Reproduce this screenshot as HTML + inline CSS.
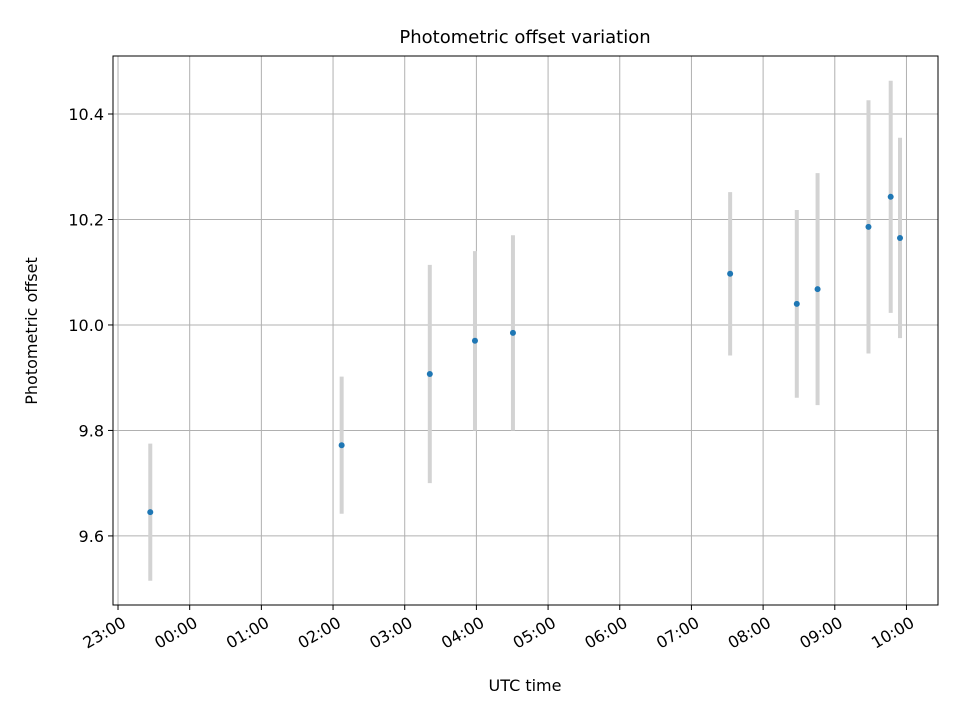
<!DOCTYPE html>
<html><head><meta charset="utf-8"><style>
body{margin:0;background:#fff;font-family:"Liberation Sans","DejaVu Sans",sans-serif}
</style></head><body>
<svg width="960" height="720" xmlns="http://www.w3.org/2000/svg" font-family="DejaVu Sans, Liberation Sans, sans-serif">
<rect width="960" height="720" fill="#fff"/>
<g id="grid"></g>
<g id="err"></g>
<g id="pts"></g>
<rect x="113" y="56" width="825" height="549" fill="none" stroke="#000" stroke-width="1"/>
<g id="xt"></g>
<g id="yt"></g>
<text x="525" y="43" font-size="18" text-anchor="middle">Photometric offset variation</text>
<text x="525" y="691" font-size="16" text-anchor="middle">UTC time</text>
<text transform="translate(37,331) rotate(-90)" font-size="16" text-anchor="middle">Photometric offset</text>
</svg>
<script>
// hours since 23:00
const times=[0.45,3.12,4.35,4.98,5.51,8.54,9.47,9.76,10.47,10.78,10.91];
const values=[9.645,9.772,9.907,9.970,9.985,10.097,10.040,10.068,10.186,10.243,10.165];
const errors=[0.13,0.13,0.207,0.17,0.185,0.155,0.178,0.22,0.24,0.22,0.19];
const xTickLabels=["23:00","00:00","01:00","02:00","03:00","04:00","05:00","06:00","07:00","08:00","09:00","10:00"];
const yTicks=[9.6,9.8,10.0,10.2,10.4];
const L=113,R=938,T=56,B=605,X0=-0.07,X1=11.44,Y0=9.469,Y1=10.51;
const sx=h=>L+(h-X0)/(X1-X0)*(R-L);
const sy=v=>B-(v-Y0)/(Y1-Y0)*(B-T);
const NS="http://www.w3.org/2000/svg";
function mk(tag,attrs,parent){const e=document.createElementNS(NS,tag);for(const k in attrs)e.setAttribute(k,attrs[k]);parent.appendChild(e);return e;}
const grid=document.getElementById('grid'),xt=document.getElementById('xt'),yt=document.getElementById('yt');
xTickLabels.forEach((lab,i)=>{const x=sx(i);
 const g=mk('line',{x1:x,x2:x,y1:T,y2:B,stroke:'#b0b0b0','stroke-width':1},grid);
 
 const t=mk('line',{x1:x,x2:x,y1:B,y2:B+5,stroke:'#000'},xt);
 
 const tx=mk('text',{x:x+5,y:B+22,'font-size':16,'text-anchor':'end',transform:`rotate(-30 ${x+5} ${B+14})`},xt);
 tx.textContent=lab;
});
yTicks.forEach(v=>{const y=sy(v);
 const g=mk('line',{x1:L,x2:R,y1:y,y2:y,stroke:'#b0b0b0','stroke-width':1},grid);
 
 const t=mk('line',{x1:L-5,x2:L,y1:y,y2:y,stroke:'#000'},yt);
 
 const tx=mk('text',{x:L-9,y:y+6,'font-size':16,'text-anchor':'end'},yt);
 tx.textContent=v.toFixed(1);
});
const err=document.getElementById('err'),pts=document.getElementById('pts');
times.forEach((h,i)=>{const x=sx(h);
 const e=mk('line',{x1:x,x2:x,y1:sy(values[i]-errors[i]),y2:sy(values[i]+errors[i]),stroke:'#d3d3d3','stroke-width':4},err);
 
 const c=mk('circle',{cx:x,cy:sy(values[i]),r:3,fill:'#1f77b4'},pts);
 
});
</script>
</body></html>
